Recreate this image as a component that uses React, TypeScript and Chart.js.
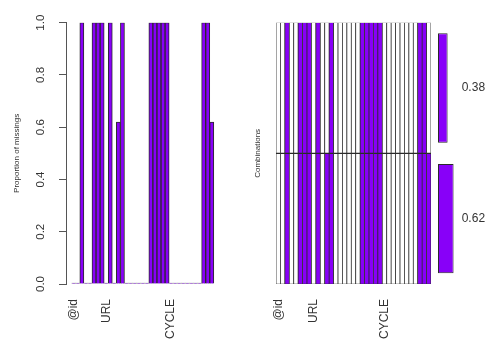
import React, { useEffect, useRef } from "react";
import { Chart, registerables } from "chart.js";
Chart.register(...registerables);

// ---- data ----
const variableLabels = [
  "@id", "", "", "", "", "", "", "", "URL", "", "", "", "", "", "", "", "", "",
  "", "", "", "", "", "", "CYCLE", "", "", "", "", "", "", "", "", "", "",
];
const shownLabelIndex = [0, 8, 24];
const missingProp = [
  0, 0, 1, 0, 0, 1, 1, 1, 0, 1, 0, 0.62, 1, 0, 0, 0, 0, 0, 0, 1, 1, 1, 1, 1,
  0, 0, 0, 0, 0, 0, 0, 0, 1, 1, 0.62,
];
const comboTop = [
  0, 0, 1, 0, 0, 1, 1, 1, 0, 1, 0, 0, 1, 0, 0, 0, 0, 0, 0, 1, 1, 1, 1, 1,
  0, 0, 0, 0, 0, 0, 0, 0, 1, 1, 0,
];
const comboBottom = [
  0, 0, 1, 0, 0, 1, 1, 1, 0, 1, 0, 1, 1, 0, 0, 0, 0, 0, 0, 1, 1, 1, 1, 1,
  0, 0, 0, 0, 0, 0, 0, 0, 1, 1, 1,
];
const comboFreq = [0.38, 0.62];
const comboFreqLabels = ["0.38", "0.62"];
const yTicks = [0, 0.2, 0.4, 0.6, 0.8, 1.0];

const PURPLE = "#8800f8";
const BORDER = "#2a2a2a";
const TEXT = "#333333";
const FONT = "'Liberation Sans', Arial, sans-serif";

export default function App() {
  const leftRef = useRef<HTMLCanvasElement>(null);
  const midRef = useRef<HTMLCanvasElement>(null);
  const rightRef = useRef<HTMLCanvasElement>(null);

  useEffect(() => {
    const charts: Chart[] = [];
    const noPad = (s: any) => {
      s.paddingLeft = 0;
      s.paddingRight = 0;
    };

    // Left: proportion of missings
    charts.push(
      new Chart(leftRef.current!, {
        type: "bar",
        data: {
          datasets: [
            {
              data: missingProp.map((v, i) => ({ x: i, y: v })),
              backgroundColor: PURPLE,
              borderColor: BORDER,
              borderWidth: 1,
              barPercentage: 1,
              categoryPercentage: 1,
              minBarLength: 1,
            } as any,
          ],
        },
        options: {
          animation: false,
          responsive: false,
          events: [],
          layout: { padding: { top: 22.7, right: 30.5, left: 0, bottom: 0 } },
          plugins: { legend: { display: false }, tooltip: { enabled: false } },
          scales: {
            x: {
              type: "linear",
              min: -1.9,
              max: 35.9,
              offset: false,
              grid: { display: false, drawTicks: false },
              border: { display: false },
              afterBuildTicks: (s: any) => {
                s.ticks = shownLabelIndex.map((v) => ({ value: v }));
              },
              afterFit: (s: any) => {
                s.height = 73;
                noPad(s);
              },
              ticks: {
                autoSkip: false,
                minRotation: 90,
                maxRotation: 90,
                padding: 15,
                color: TEXT,
                font: { family: FONT, size: 12 },
                callback: (v: any) => variableLabels[v as number],
              },
            },
            y: {
              min: 0,
              max: 1,
              afterBuildTicks: (s: any) => {
                s.ticks = yTicks.map((v) => ({ value: v }));
              },
              ticks: {
                minRotation: 90,
                maxRotation: 90,
                crossAlign: "center",
                padding: 10,
                color: TEXT,
                font: { family: FONT, size: 11.5 },
                callback: (v: any) => Number(v).toFixed(1),
              },
              grid: {
                display: true,
                drawOnChartArea: false,
                tickLength: 7,
                color: "#555",
              },
              border: { display: true, color: "#555" },
              title: {
                display: true,
                text: "Proportion of missings",
                color: TEXT,
                font: { family: FONT, size: 8 },
                padding: { top: 12, bottom: 0 },
              },
              afterFit: (s: any) => {
                s.width = 66;
              },
            },
          },
        },
      } as any)
    );

    // Middle: combinations grid
    const colors = (arr: number[]) => arr.map((m) => (m ? PURPLE : "#ffffff"));
    charts.push(
      new Chart(midRef.current!, {
        type: "bar",
        data: {
          labels: variableLabels,
          datasets: [
            {
              data: comboBottom.map(() => [0, 1]),
              backgroundColor: colors(comboBottom),
              borderColor: BORDER,
              borderWidth: { left: 0.75, right: 0.75, top: 1, bottom: 0.7 },
              borderSkipped: false,
              barPercentage: 1,
              categoryPercentage: 1,
            },
            {
              data: comboTop.map(() => [1, 2]),
              backgroundColor: colors(comboTop),
              borderColor: BORDER,
              borderWidth: { left: 0.75, right: 0.75, top: 0.7, bottom: 1 },
              borderSkipped: false,
              barPercentage: 1,
              categoryPercentage: 1,
            },
          ],
        },
        options: {
          animation: false,
          responsive: false,
          events: [],
          layout: { padding: { top: 22.7, right: 4, left: 0, bottom: 0 } },
          plugins: { legend: { display: false }, tooltip: { enabled: false } },
          datasets: { bar: { grouped: false } },
          scales: {
            x: {
              grid: { display: false, drawTicks: false },
              border: { display: false },
              afterFit: (s: any) => {
                s.height = 73;
                noPad(s);
              },
              ticks: {
                autoSkip: false,
                minRotation: 90,
                maxRotation: 90,
                padding: 15,
                color: TEXT,
                font: { family: FONT, size: 12 },
              },
            },
            y: {
              min: 0,
              max: 2,
              ticks: { display: false },
              grid: { display: false, drawTicks: false },
              border: { display: false },
              title: {
                display: true,
                text: "Combinations",
                color: TEXT,
                font: { family: FONT, size: 8 },
                padding: { top: 3, bottom: 0 },
              },
              afterFit: (s: any) => {
                s.width = 26;
              },
            },
          },
        },
      } as any)
    );

    // Right: frequency of combinations
    charts.push(
      new Chart(rightRef.current!, {
        type: "bar",
        data: {
          labels: comboFreqLabels,
          datasets: [
            {
              data: comboFreq,
              backgroundColor: PURPLE,
              borderColor: BORDER,
              borderWidth: 1,
              borderSkipped: false,
              barPercentage: 0.837,
              categoryPercentage: 1,
            },
          ],
        },
        options: {
          indexAxis: "y",
          animation: false,
          responsive: false,
          events: [],
          layout: { padding: { top: 22.7, right: 0, left: 3, bottom: 73 } },
          plugins: { legend: { display: false }, tooltip: { enabled: false } },
          scales: {
            x: {
              display: false,
              min: 0,
              max: Math.max(...comboFreq),
            },
            y: {
              position: "right",
              grid: { display: false, drawTicks: false },
              border: { display: false },
              ticks: {
                padding: 8,
                color: TEXT,
                font: { family: FONT, size: 12 },
              },
              afterFit: (s: any) => {
                s.width = 46.3;
              },
            },
          },
        },
      } as any)
    );

    return () => charts.forEach((c) => c.destroy());
  }, []);

  return (
    <div
      style={{
        position: "fixed",
        left: 0,
        top: 0,
        width: 500,
        height: 357,
        background: "#ffffff",
      }}
    >
      <canvas
        ref={leftRef}
        width={250}
        height={357}
        style={{ position: "absolute", left: 0, top: 0, width: 250, height: 357 }}
      />
      <canvas
        ref={midRef}
        width={185}
        height={357}
        style={{ position: "absolute", left: 250, top: 0, width: 185, height: 357 }}
      />
      <canvas
        ref={rightRef}
        width={65}
        height={357}
        style={{ position: "absolute", left: 435, top: 0, width: 65, height: 357 }}
      />
    </div>
  );
}
